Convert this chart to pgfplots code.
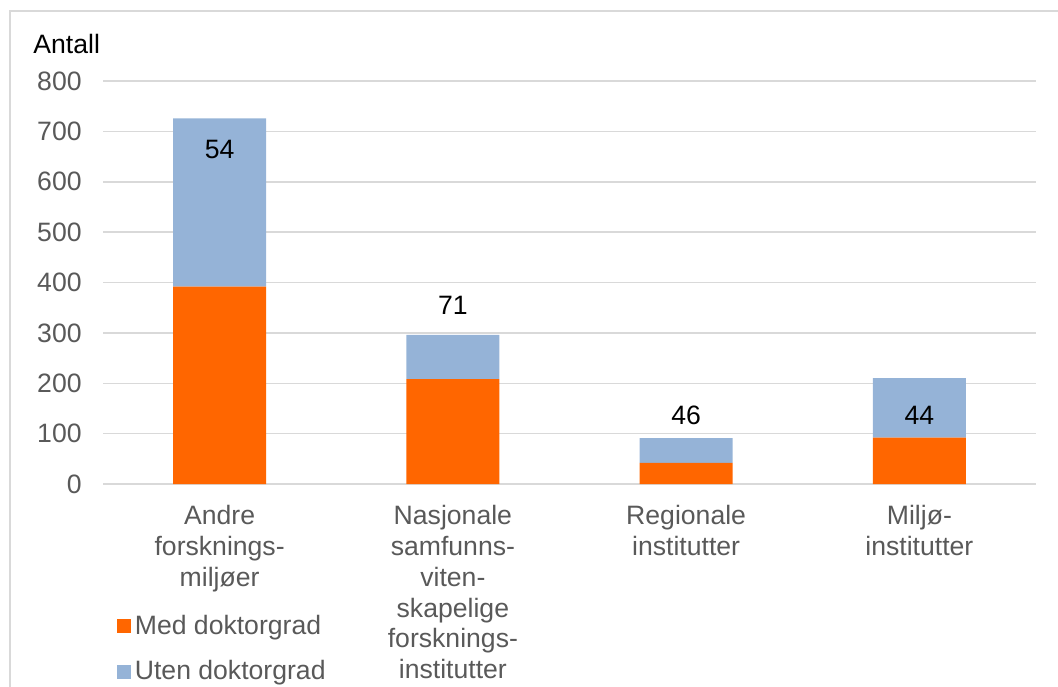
\documentclass[border=0pt]{standalone}
\usepackage{fontspec}
\setmainfont{Liberation Sans}
\usepackage{pgfplots}
\pgfplotsset{compat=1.18}
\definecolor{medc}{HTML}{FF6600}
\definecolor{utenc}{HTML}{95B3D7}
\definecolor{gridc}{HTML}{D9D9D9}
\definecolor{txtc}{HTML}{595959}
\newcommand{\lbl}{\fontsize{13.3}{15.4}\selectfont}

\begin{document}
\begin{tikzpicture}
\useasboundingbox (0pt,0pt) rectangle (529pt,-343pt);
\clip (0pt,0pt) rectangle (529pt,-343pt);
\draw[gridc, line width=1pt] (5pt,-400pt) -- (5pt,-5.5pt) -- (600pt,-5.5pt);
\begin{axis}[
    at={(51.5pt,-242pt)}, anchor=south west,
    width=466.5pt, height=201.5pt, scale only axis,
    xmin=-0.5, xmax=3.5, ymin=0, ymax=800,
    ybar stacked, bar width=46.5pt,
    xtick={0,1,2,3},
    xticklabels={{Andre\\forsknings-\\miljøer},
                 {Nasjonale\\samfunns-\\viten-\\skapelige\\forsknings-\\institutter},
                 {Regionale\\institutter},
                 {Miljø-\\institutter}},
    ytick={0,100,...,800},
    ymajorgrids, grid style={gridc, line width=0.75pt},
    axis line style={draw=none},
    major tick length=0pt,
    tick label style={font=\lbl, text=txtc},
    xticklabel style={align=center, inner sep=0pt, yshift=-10.5pt},
    yticklabel style={inner sep=0pt, xshift=-10.5pt},
    /pgf/number format/assume math mode=true,
    legend style={at={(0.008,-0.305)}, anchor=north west, draw=none, fill=none,
        font=\lbl, text=txtc, row sep=7.4pt},
    legend cell align=left,
    legend image code/.code={\fill[#1] (0pt,-3.5pt) rectangle (7pt,3.5pt);},
]
\addplot+[fill=medc, draw=none] coordinates {(0,392) (1,208) (2,42) (3,92)};
\addplot+[fill=utenc, draw=none] coordinates {(0,334) (1,88) (2,49) (3,118)};
\legend{Med doktorgrad, Uten doktorgrad}
\coordinate (l0) at (axis cs:0,665);
\coordinate (l1) at (axis cs:1,355);
\coordinate (l2) at (axis cs:2,137);
\coordinate (l3) at (axis cs:3,137);
\end{axis}
\node[font=\lbl] at (l0) {54};
\node[font=\lbl] at (l1) {71};
\node[font=\lbl] at (l2) {46};
\node[font=\lbl] at (l3) {44};
\node[anchor=base west, font=\lbl, inner sep=0pt] at (16.5pt,-26.5pt) {Antall};
\end{tikzpicture}
\end{document}
